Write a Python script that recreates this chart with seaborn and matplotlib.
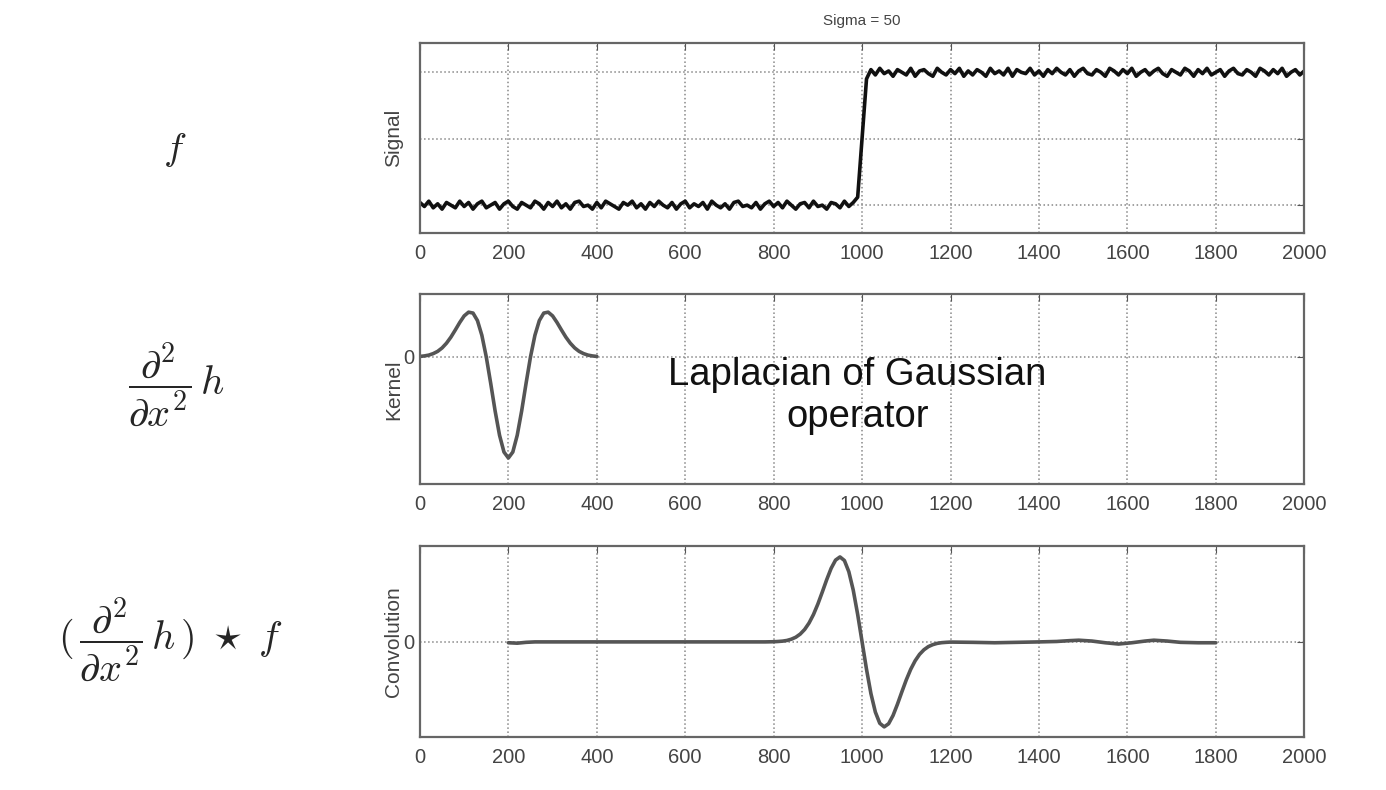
#LoG 필터: 계단 신호, 커널, 컨볼루션 결과
import numpy as np
import pandas as pd
import matplotlib
matplotlib.use('Agg')
import matplotlib.pyplot as plt
import seaborn as sb

#그래프에서 읽은 값
xticks = [0, 200, 400, 600, 800, 1000, 1200, 1400, 1600, 1800, 2000]

#신호 (10 간격, 0 ~ 2000): 아래 구간 0 근처, 위 구간 1 근처
sig_x = list(range(0, 2001, 10))
sig_low = [0.02, -0.01, 0.03, -0.02, 0.01, -0.03, 0.02, 0.00, -0.02, 0.03,
           -0.01, 0.02, -0.03, 0.01, 0.03, -0.02, 0.00, 0.02, -0.03, 0.01,
           0.03, -0.01, -0.03, 0.02, 0.00, -0.02, 0.03, 0.01, -0.03, 0.02,
           -0.01, 0.03, -0.02, 0.01, -0.03, 0.02, 0.03, -0.01, 0.00, -0.03,
           0.02, -0.02, 0.03, 0.01, -0.01, -0.03, 0.02, 0.00, 0.03, -0.02,
           0.01, -0.03, 0.02, -0.01, 0.03, 0.00, -0.02, 0.02, -0.03, 0.01,
           0.03, -0.02, 0.01, -0.01, 0.02, -0.03, 0.03, 0.00, -0.02, 0.01,
           -0.03, 0.02, 0.03, -0.01, 0.00, -0.02, 0.02, -0.03, 0.01, 0.03,
           -0.01, 0.02, -0.02, 0.03, 0.00, -0.03, 0.01, 0.02, -0.02, 0.03,
           -0.01, 0.00, -0.03, 0.02, 0.01, -0.02, 0.03, -0.01, 0.02, 0.06]
sig_mid = [0.50]
sig_high = [0.95, 1.02, 0.98, 1.03, 0.99, 1.01, 0.97, 1.02, 1.00, 0.98,
            1.03, 0.97, 1.01, 1.02, 0.99, 0.97, 1.03, 1.00, 0.98, 1.02,
            0.99, 1.03, 0.97, 1.01, 0.98, 1.02, 1.00, 0.97, 1.03, 0.99,
            1.01, 0.98, 1.03, 0.97, 1.02, 1.00, 0.99, 1.03, 0.98, 1.01,
            0.97, 1.02, 0.99, 1.03, 1.00, 0.98, 1.02, 0.97, 1.01, 1.03,
            0.99, 0.98, 1.02, 1.00, 0.97, 1.03, 1.01, 0.98, 1.02, 0.99,
            1.03, 0.97, 1.00, 1.02, 0.98, 1.01, 1.03, 0.99, 0.97, 1.02,
            1.00, 0.98, 1.03, 1.01, 0.97, 1.02, 0.99, 1.03, 0.98, 1.00,
            1.02, 0.97, 1.01, 1.03, 0.99, 0.98, 1.02, 1.00, 0.97, 1.03,
            1.01, 0.98, 1.02, 0.99, 1.03, 0.97, 1.00, 1.02, 0.98, 1.01]
sig_y = sig_low + sig_mid + sig_high

#커널 (10 간격, 0 ~ 400)
ker_x = list(range(0, 401, 10))
ker_y = [0.005, 0.010, 0.018, 0.033, 0.055, 0.089, 0.136, 0.196, 0.267, 0.341,
         0.406, 0.443, 0.434, 0.360, 0.214, 0.000, -0.261, -0.535, -0.775, -0.941,
         -1.000,
         -0.941, -0.775, -0.535, -0.261, 0.000, 0.214, 0.360, 0.434, 0.443, 0.406,
         0.341, 0.267, 0.196, 0.136, 0.089, 0.055, 0.033, 0.018, 0.010, 0.005]

#컨볼루션
conv_x = ([200, 220, 240, 260, 300, 400, 500, 600, 700, 780]
          + list(range(800, 1201, 10))
          + [1250, 1300, 1350, 1400, 1440, 1470, 1490, 1520, 1550, 1580, 1610,
             1640, 1660, 1690, 1720, 1760, 1800])
conv_y = ([-0.01, -0.015, -0.005, 0.0, 0.0, 0.0, 0.0, 0.0, 0.0, 0.0]
          + [0.002, 0.005, 0.009, 0.017, 0.032, 0.055, 0.092, 0.146, 0.222, 0.322,
             0.446, 0.587, 0.733, 0.866, 0.963, 1.000, 0.958, 0.826, 0.609, 0.323,
             0.000,
             -0.323, -0.609, -0.826, -0.958, -1.000, -0.963, -0.866, -0.733, -0.587,
             -0.446, -0.322, -0.222, -0.146, -0.092, -0.055, -0.032, -0.017, -0.009,
             -0.005, -0.002]
          + [-0.005, -0.01, -0.005, 0.0, 0.005, 0.015, 0.02, 0.01, -0.01, -0.025,
             -0.01, 0.01, 0.02, 0.01, -0.005, -0.01, -0.01])

df_sig = pd.DataFrame({'x': sig_x, 'y': sig_y})
df_ker = pd.DataFrame({'x': ker_x, 'y': ker_y})
df_conv = pd.DataFrame({'x': conv_x, 'y': conv_y})

sb.set_style('white')
plt.rcParams['font.family'] = ['Liberation Sans', 'DejaVu Sans']
plt.rcParams['mathtext.fontset'] = 'cm'

fig = plt.figure(figsize=(13.86, 7.90), dpi=100)
ax1 = fig.add_axes([0.303, 0.705, 0.638, 0.2405])
ax2 = fig.add_axes([0.303, 0.387, 0.638, 0.2405])
ax3 = fig.add_axes([0.303, 0.067, 0.638, 0.242])

sb.lineplot(data=df_sig, x='x', y='y', ax=ax1, color='#111111', lw=2.6)
sb.lineplot(data=df_ker, x='x', y='y', ax=ax2, color='#555555', lw=2.6)
sb.lineplot(data=df_conv, x='x', y='y', ax=ax3, color='#555555', lw=2.6)

#축 공통 설정 (matlab 느낌)
for ax in [ax1, ax2, ax3]:
    ax.set_xlim(0, 2000)
    ax.set_xticks(xticks)
    ax.set_xticklabels([str(t) for t in xticks], fontsize=14.5, color='#444444')
    ax.grid(True, linestyle=':', color='#888888', lw=1.1)
    ax.tick_params(direction='in', top=True, right=True, length=5,
                   color='#555555', pad=8)
    ax.set_xlabel('')
    for s in ax.spines.values():
        s.set_color('#666666')
        s.set_linewidth(1.6)

ax1.set_ylim(-0.21, 1.22)
ax1.set_yticks([0, 0.5, 1])
ax1.set_yticklabels(['', '', ''])
ax1.set_ylabel('Signal', fontsize=15, color='#444444', labelpad=4)
ax1.set_title('Sigma = 50', fontsize=11, color='#444444', pad=13)

ax2.set_ylim(-1.26, 0.62)
ax2.set_yticks([0])
ax2.set_yticklabels(['0'], fontsize=14.5, color='#444444')
ax2.tick_params(axis='y', pad=4)
ax2.set_ylabel('Kernel', fontsize=15, color='#444444', labelpad=0)
ax2.text(0.495, 0.465, 'Laplacian of Gaussian\noperator', transform=ax2.transAxes,
         ha='center', va='center', fontsize=27.5, color='#111111', linespacing=1.2)

ax3.set_ylim(-1.12, 1.13)
ax3.set_yticks([0])
ax3.set_yticklabels(['0'], fontsize=14.5, color='#444444')
ax3.tick_params(axis='y', pad=4)
ax3.set_ylabel('Convolution', fontsize=15, color='#444444', labelpad=0)

#왼쪽 수식
fig.text(0.126, 0.81, r'$f$', fontsize=28, ha='center', va='center')
fig.text(0.127, 0.513, r'$\dfrac{\partial^2}{\partial x^2}\,h$', fontsize=29,
         ha='center', va='center')
fig.text(0.123, 0.19, r'$(\,\dfrac{\partial^2}{\partial x^2}\,h\,)\;\star\;f$',
         fontsize=29, ha='center', va='center')

fig.savefig('out.png', dpi=100)
